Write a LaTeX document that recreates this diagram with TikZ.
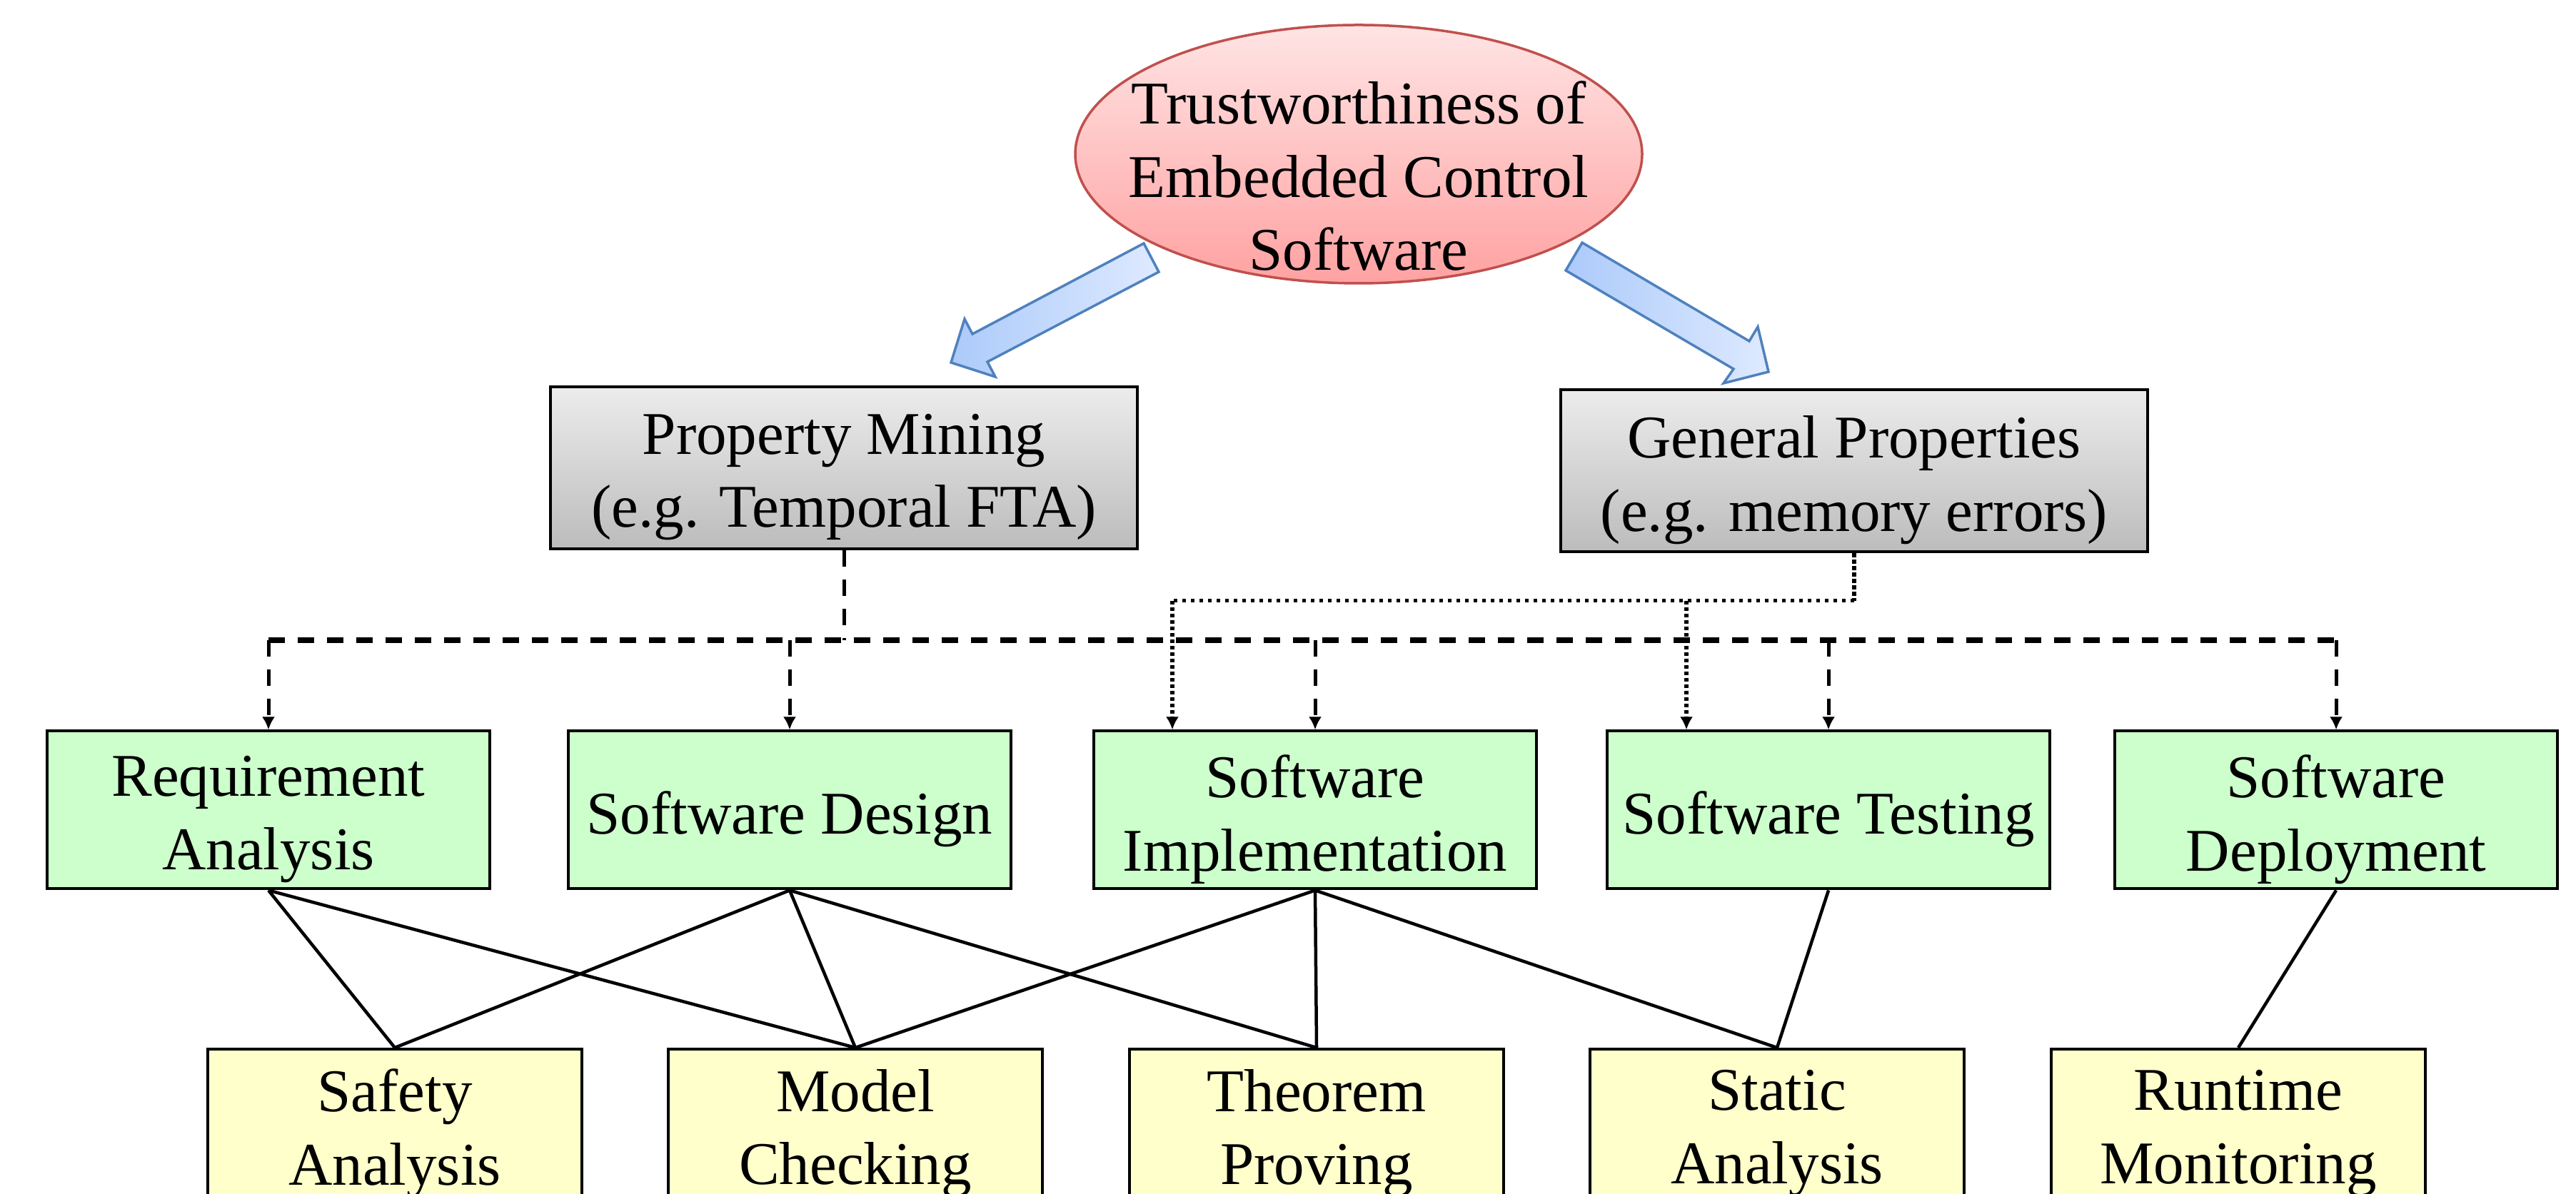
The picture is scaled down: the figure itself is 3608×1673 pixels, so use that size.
\documentclass[tikz,border=0pt]{standalone}
\usepackage{fontspec}
\setmainfont{Liberation Serif}
\usetikzlibrary{arrows.meta,shapes.geometric}
\definecolor{ellred}{RGB}{192,80,77}
\definecolor{pinktop}{RGB}{255,228,228}
\definecolor{pinkbot}{RGB}{255,162,162}
\definecolor{graytop}{RGB}{236,236,236}
\definecolor{graybot}{RGB}{188,188,188}
\definecolor{greenfill}{RGB}{204,255,204}
\definecolor{yellowfill}{RGB}{255,255,204}
\definecolor{arrowblue}{RGB}{79,129,189}
\definecolor{arrowdark}{RGB}{172,202,250}
\definecolor{arrowlight}{RGB}{222,234,255}
\tikzset{
  topell/.style={ellipse, draw=ellred, line width=0.7pt, top color=pinktop, bottom color=pinkbot,
    minimum width=158.8pt, minimum height=72.4pt, inner sep=0pt},
  graybox/.style={rectangle, draw=black, line width=0.9pt, top color=graytop, bottom color=graybot,
    minimum width=164.4pt, minimum height=45.4pt, inner sep=0pt},
  greenbox/.style={rectangle, draw=black, line width=0.8pt, fill=greenfill,
    minimum width=124pt, minimum height=44.2pt, inner sep=0pt},
  yellowbox/.style={rectangle, draw=black, line width=0.8pt, fill=yellowfill,
    minimum width=104.8pt, minimum height=47.2pt, align=center, inner sep=0pt},
  boxtext/.style={align=center, inner sep=0pt, yshift=-2.6pt},
  blockarrow/.style={draw=arrowblue, line width=0.7pt, line join=miter, left color=arrowdark, right color=arrowlight},
  arrowtip/.style={-{Latex[length=3.6pt,width=3.6pt]}},
  dashline/.style={line width=1.6pt, dash pattern=on 4.6pt off 3.6pt},
  dashvert/.style={line width=1pt, dash pattern=on 4.6pt off 3.6pt},
  dotline/.style={line width=1pt, dash pattern=on 1pt off 1.4pt},
  dotvert/.style={line width=1.1pt, dash pattern=on 1.1pt off 0.7pt},
  link/.style={line width=0.9pt}
}
\begin{document}
\begin{tikzpicture}[x=0.2pt,y=-0.2pt,font=\fontsize{17}{20.5}\selectfont]
\useasboundingbox (0,0) rectangle (3608,1673);

% top ellipse
\node[topell] (trust) at (1903,216) {};
\node[align=center, inner sep=0pt] (trusttext) at (1903,247) {Trustworthiness of\\Embedded Control\\Software};

% block arrows
\draw[blockarrow] (1602,341) -- (1362,468) -- (1351,447) -- (1332,508) -- (1394,528) -- (1383,507) -- (1623,381) -- cycle;
\draw[blockarrow] (2216,340) -- (2450,478) -- (2462,458) -- (2477,521) -- (2414,537) -- (2428,517) -- (2193,379) -- cycle;

% gray boxes
\node[graybox, label={[boxtext]center:Property Mining\\(e.g. Temporal FTA)}] (pm) at (1182,655.5) {};
\node[graybox, label={[boxtext]center:General Properties\\(e.g. memory errors)}] (gp) at (2597,659.5) {};

% green boxes
\node[greenbox, label={[boxtext]center:Requirement\\Analysis}] (ra) at (376,1135) {};
\node[greenbox, label={[boxtext]center:Software Design}] (sd) at (1106,1135) {};
\node[greenbox, label={[boxtext]center:Software\\Implementation}] (si) at (1842,1135) {};
\node[greenbox, label={[boxtext]center:Software Testing}] (st) at (2561,1135) {};
\node[greenbox, label={[boxtext]center:Software\\Deployment}] (sdep) at (3272,1135) {};

% yellow boxes
\node[yellowbox] (sa) at (553,1588) {Safety\\Analysis};
\node[yellowbox] (mc) at (1198,1588) {Model\\Checking};
\node[yellowbox] (tp) at (1844,1588) {Theorem\\Proving};
\node[yellowbox] (sta) at (2489,1588) {Static\\Analysis};
\node[yellowbox] (rm) at (3135,1588) {Runtime\\Monitoring};

% dashed tree from Property Mining
\coordinate (pmj) at (1182,897);
\coordinate (hl) at (376,897);
\coordinate (hr) at (3272,897);
\draw[dashvert] (pm.south) -- (pmj);
\draw[dashline] (hl) -- (hr);
\foreach \n in {ra,sd,si,st,sdep}{
  \draw[dashvert,arrowtip] (\n.north |- hl) -- (\n.north);
}

% dotted tree from General Properties
\coordinate (gpj) at (2597,842);
\coordinate (dl) at (1642,842);
\coordinate (dm) at (2362,842);
\draw[dotvert] (gp.south) -- (gpj);
\draw[dotline] (gpj) -- (dl);
\draw[dotvert,arrowtip] (dl) -- (dl |- si.north);
\draw[dotvert,arrowtip] (dm) -- (dm |- st.north);

% solid links
\draw[link] (ra.south) -- (sa.north);
\draw[link] (ra.south) -- (mc.north);
\draw[link] (sd.south) -- (sa.north);
\draw[link] (sd.south) -- (mc.north);
\draw[link] (sd.south) -- (tp.north);
\draw[link] (si.south) -- (mc.north);
\draw[link] (si.south) -- (tp.north);
\draw[link] (si.south) -- (sta.north);
\draw[link] (st.south) -- (sta.north);
\draw[link] (sdep.south) -- (rm.north);
\end{tikzpicture}
\end{document}
